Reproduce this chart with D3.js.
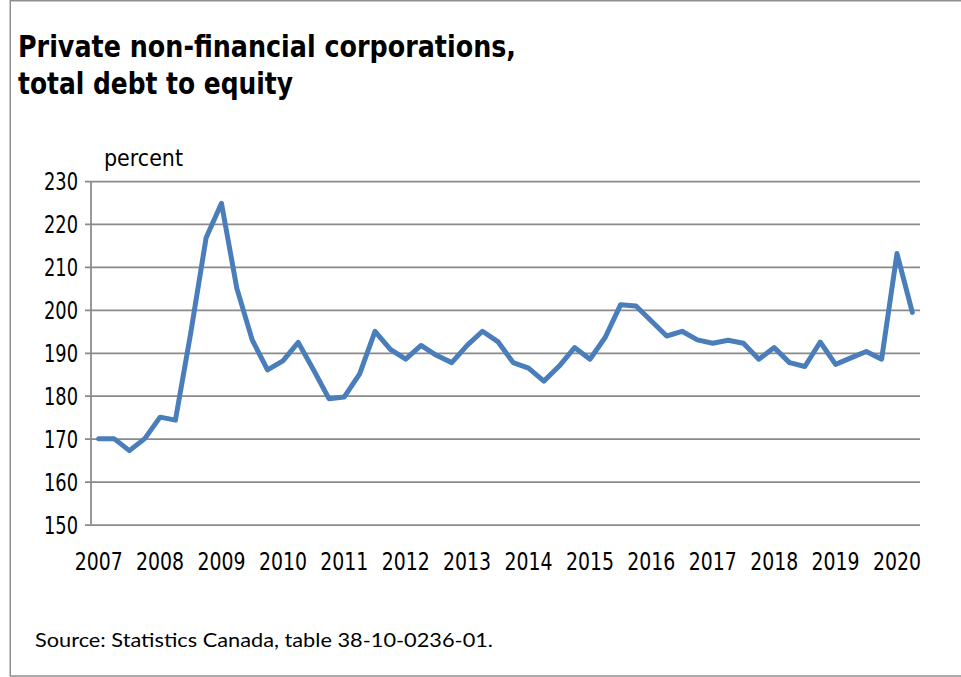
<!DOCTYPE html>
<html>
<head>
<meta charset="utf-8">
<script src="https://cdn.jsdelivr.net/npm/d3@7"></script>
<style>
  html, body { margin: 0; padding: 0; background: #ffffff; }
  svg { display: block; }
</style>
</head>
<body>
<svg id="chart" width="961" height="677"></svg>
<script>
// Quarterly ratio of total debt to equity, 2007 Q1 – 2020 Q2
const years = ["2007","2008","2009","2010","2011","2012","2013","2014","2015","2016","2017","2018","2019","2020"];
const quarters = ["Q1","Q2","Q3","Q4"];
const debtToEquity = [
  170.0, 170.0, 167.2, 170.0,   // 2007
  175.0, 174.3, 194.7, 216.8,   // 2008
  224.8, 205.0, 193.0, 186.0,   // 2009
  188.1, 192.4, 186.0, 179.3,   // 2010
  179.7, 185.1, 195.0, 190.8,   // 2011
  188.5, 191.7, 189.4, 187.7,   // 2012
  191.7, 195.0, 192.6, 187.7,   // 2013
  186.4, 183.4, 186.9, 191.2,   // 2014
  188.5, 193.6, 201.2, 200.9,   // 2015
  197.4, 193.9, 195.0, 193.0,   // 2016
  192.2, 192.9, 192.2, 188.5,   // 2017
  191.2, 187.7, 186.8, 192.5,   // 2018
  187.3, 188.8, 190.3, 188.5,   // 2019
  213.1, 199.4                  // 2020
];
const yTicks = [150, 160, 170, 180, 190, 200, 210, 220, 230];

const periods = debtToEquity.map((v, i) => years[Math.floor(i / 4)] + quarters[i % 4]);
const series = periods.map((p, i) => ({ period: p, value: debtToEquity[i] }));

const svg = d3.select("#chart");
const plotLeft = 91, plotRight = 920, plotTop = 181, plotBottom = 524.5;

// frame
svg.append("path")
  .attr("d", "M961,0.75 H10.25 V676 H961")
  .attr("fill", "none")
  .attr("stroke", "#8f8f8f")
  .attr("stroke-width", 1.5);

// title
const title = svg.append("g")
  .attr("font-family", "'DejaVu Sans', sans-serif")
  .attr("font-weight", "bold")
  .attr("font-size", 29.5)
  .attr("fill", "#000");
title.append("text").attr("x", 18).attr("y", 56.5)
  .attr("textLength", 498).attr("lengthAdjust", "spacingAndGlyphs")
  .text("Private non-financial corporations,");
title.append("text").attr("x", 18).attr("y", 93.5)
  .attr("textLength", 275).attr("lengthAdjust", "spacingAndGlyphs")
  .text("total debt to equity");

// scales
const x = d3.scaleBand().domain(periods).range([plotLeft, plotRight]).padding(0);
const y = d3.scaleLinear().domain([150, 230]).range([plotBottom, plotTop]);

// horizontal gridlines with left tick marks and labels
const yAxis = svg.append("g")
  .attr("transform", `translate(${plotLeft - 6},0)`)
  .call(d3.axisLeft(y).tickValues(yTicks).tickSize(-(plotRight - plotLeft + 6)).tickPadding(7))
  .call(g => g.select(".domain").remove());
yAxis.selectAll(".tick line").attr("stroke", "#8a8a8a").attr("stroke-width", 1.75);
yAxis.selectAll(".tick text")
  .attr("font-family", "'DejaVu Sans', sans-serif")
  .attr("font-size", 24)
  .attr("fill", "#000")
  .attr("dy", 8.8)
  .attr("textLength", 34).attr("lengthAdjust", "spacingAndGlyphs");

// vertical axis line
svg.append("line")
  .attr("x1", plotLeft).attr("x2", plotLeft)
  .attr("y1", y(230)).attr("y2", y(150))
  .attr("stroke", "#8a8a8a").attr("stroke-width", 1.75);

// year labels on the first quarter of each year
const xAxis = svg.append("g")
  .attr("transform", `translate(0,${plotBottom})`)
  .call(d3.axisBottom(x)
    .tickValues(periods.filter(p => p.endsWith("Q1")))
    .tickFormat(p => p.slice(0, 4))
    .tickSize(0))
  .call(g => g.select(".domain").remove());
xAxis.selectAll(".tick text")
  .attr("font-family", "'DejaVu Sans', sans-serif")
  .attr("font-size", 24)
  .attr("fill", "#000")
  .attr("dy", null)
  .attr("y", 45.5)
  .attr("textLength", 48).attr("lengthAdjust", "spacingAndGlyphs");

// unit label
svg.append("text")
  .attr("x", 104).attr("y", 166)
  .attr("font-family", "'DejaVu Sans', sans-serif")
  .attr("font-size", 23)
  .attr("fill", "#000")
  .attr("textLength", 79).attr("lengthAdjust", "spacingAndGlyphs")
  .text("percent");

// series line
const line = d3.line()
  .x(d => x(d.period) + x.bandwidth() / 2)
  .y(d => y(d.value));
svg.append("path")
  .datum(series)
  .attr("d", line)
  .attr("fill", "none")
  .attr("stroke", "#4a7ebb")
  .attr("stroke-width", 5)
  .attr("stroke-linejoin", "round")
  .attr("stroke-linecap", "round");

// source note
svg.append("text")
  .attr("x", 35).attr("y", 646.5)
  .attr("font-family", "Lato, 'Open Sans', sans-serif")
  .attr("font-size", 19)
  .attr("fill", "#000")
  .attr("textLength", 458).attr("lengthAdjust", "spacingAndGlyphs")
  .text("Source: Statistics Canada, table 38-10-0236-01.");
</script>
</body>
</html>
